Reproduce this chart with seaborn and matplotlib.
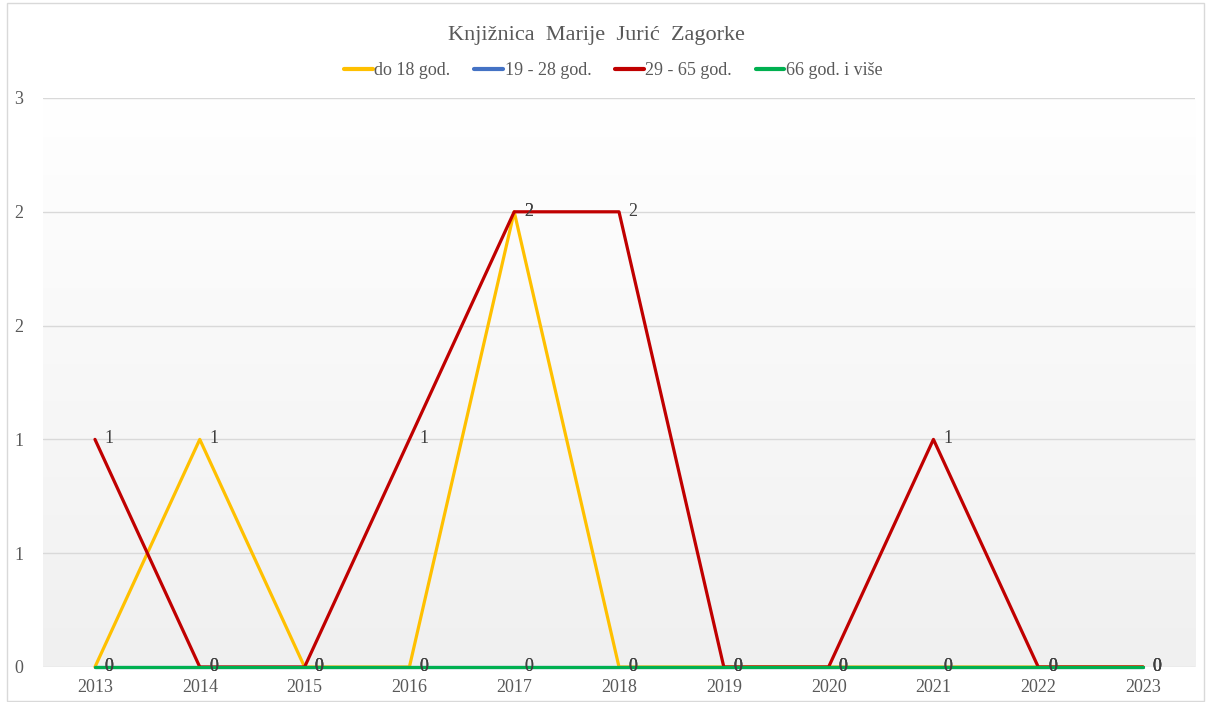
import numpy as np
import pandas as pd
import seaborn as sns
import matplotlib.pyplot as plt
from matplotlib.colors import LinearSegmentedColormap
from matplotlib.ticker import FuncFormatter
from matplotlib.patches import Rectangle

# data
years = [2013, 2014, 2015, 2016, 2017, 2018, 2019, 2020, 2021, 2022, 2023]
series = ['do 18 god.', '19 - 28 god.', '29 - 65 god.', '66 god. i više']
do_18 = [0, 1, 0, 0, 2, 0, 0, 0, 0, 0, 0]
od_19_28 = [0, 0, 0, 0, 0, 0, 0, 0, 0, 0, 0]
od_29_65 = [1, 0, 0, 1, 2, 2, 0, 0, 1, 0, 0]
od_66 = [0, 0, 0, 0, 0, 0, 0, 0, 0, 0, 0]
colors = ['#FFC000', '#4472C4', '#C00000', '#00B050']

df = pd.DataFrame({'godina': years * 4,
                   'grupa': np.repeat(series, len(years)),
                   'broj': do_18 + od_19_28 + od_29_65 + od_66})

sns.set_style('white')
plt.rcParams['font.family'] = ['Liberation Serif', 'DejaVu Serif']

fig = plt.figure(figsize=(12.09, 7.02), dpi=100)
ax = fig.add_axes([0.0352, 0.0499, 0.9536, 0.8105])

# plot area gradient like the excel chart
grad = np.linspace(0, 1, 256).reshape(-1, 1)
cmap = LinearSegmentedColormap.from_list('bg', ['#f0f0f0', '#ffffff'])
ax.imshow(grad, extent=[2012.5, 2023.5, 0, 2.5], aspect='auto', cmap=cmap,
          origin='lower', zorder=0)

sns.lineplot(data=df, x='godina', y='broj', hue='grupa', hue_order=series,
             palette=dict(zip(series, colors)), linewidth=2.3, ax=ax, zorder=3)
for ln in ax.lines:
    ln.set_clip_on(False)

# data labels
for name, vals in zip(series, [do_18, od_19_28, od_29_65, od_66]):
    for x, v in zip(years, vals):
        ax.annotate(str(v), (x, v), xytext=(7, 0.5), textcoords='offset points',
                    ha='left', va='center', fontsize=13, color='#404040', zorder=4)

ax.set_xlim(2012.5, 2023.5)
ax.set_ylim(0, 2.5)
ax.set_xticks(years)
ax.set_yticks([0, 0.5, 1, 1.5, 2, 2.5])
ax.yaxis.set_major_formatter(FuncFormatter(lambda v, p: str(int(np.floor(v + 0.5)))))
ax.tick_params(axis='both', length=0, labelsize=13, labelcolor='#595959')
ax.tick_params(axis='y', pad=14)
ax.tick_params(axis='x', pad=9)
ax.grid(axis='y', color='#d9d9d9', linewidth=1)
ax.set_axisbelow(True)
for s in ax.spines.values():
    s.set_visible(False)
ax.set_xlabel('')
ax.set_ylabel('')

handles, labels = ax.get_legend_handles_labels()
for h in handles:
    h.set_linewidth(3)
ax.legend(handles, labels, loc='center', bbox_to_anchor=(0.495, 1.048), ncol=4,
          frameon=False, fontsize=13, handlelength=1.6, handletextpad=0.1,
          columnspacing=1.3, labelcolor='#595959')

fig.text(0.493, 0.950, 'Knjižnica  Marije  Jurić  Zagorke', ha='center', va='center',
         fontsize=16, color='#595959')

fig.patches.append(Rectangle((0.006, 0.002), 0.99, 0.994, transform=fig.transFigure,
                             fill=False, edgecolor='#d9d9d9', linewidth=1))

fig.savefig('out.png', dpi=100)
